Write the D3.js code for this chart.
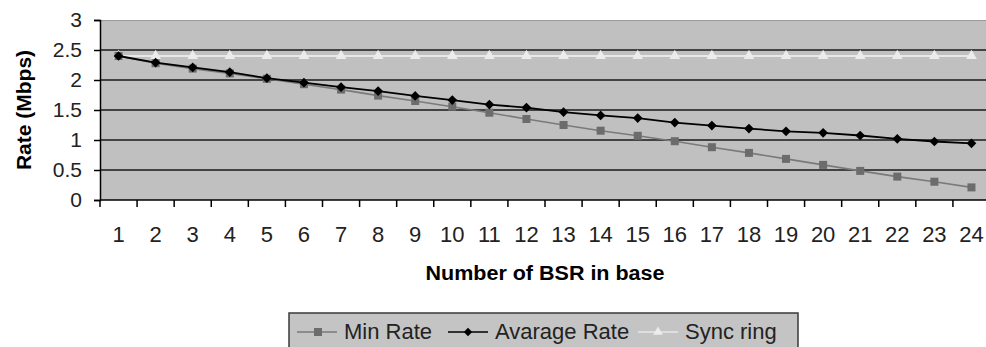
<!DOCTYPE html>
<html>
<head>
<meta charset="utf-8">
<script src="https://cdn.jsdelivr.net/npm/d3@7"></script>
<style>
  body { margin: 0; background: #fff; }
  text { font-family: Arial, "Liberation Sans", sans-serif; }
</style>
</head>
<body>
<script>
// values
var categories = [1, 2, 3, 4, 5, 6, 7, 8, 9, 10, 11, 12, 13, 14, 15, 16, 17, 18, 19, 20, 21, 22, 23, 24]
var minRate = [2.40, 2.28, 2.19, 2.11, 2.02, 1.93, 1.84, 1.74, 1.65, 1.555, 1.455, 1.35, 1.25, 1.155, 1.07, 0.98, 0.88, 0.785, 0.685, 0.585, 0.485, 0.39, 0.305, 0.21]
var avgRate = [2.40, 2.29, 2.21, 2.13, 2.03, 1.955, 1.88, 1.815, 1.735, 1.665, 1.59, 1.54, 1.465, 1.41, 1.365, 1.29, 1.24, 1.19, 1.145, 1.12, 1.075, 1.02, 0.975, 0.945]
var syncRing = [2.4, 2.4, 2.4, 2.4, 2.4, 2.4, 2.4, 2.4, 2.4, 2.4, 2.4, 2.4, 2.4, 2.4, 2.4, 2.4, 2.4, 2.4, 2.4, 2.4, 2.4, 2.4, 2.4, 2.4]
var yTicks = [0, 0.5, 1, 1.5, 2, 2.5, 3]
var yTickLabels = ['0', '0.5', '1', '1.5', '2', '2.5', '3']
var seriesNames = ['Min Rate', 'Avarage Rate', 'Sync ring']

var width = 986, height = 347
var margin = {left: 100, top: 20, right: -4, bottom: 147}
var plotW = width - margin.left - margin.right
var plotH = height - margin.top - margin.bottom

var svg = d3.select('body').append('svg').attr('width', width).attr('height', height)

var x = d3.scaleBand().domain(categories).range([0, plotW])
var y = d3.scaleLinear().domain([0, 3]).range([plotH, 0])

var g = svg.append('g').attr('transform', 'translate(' + margin.left + ',' + margin.top + ')')

// plot background
g.append('rect').attr('x', 0).attr('y', 0).attr('width', plotW).attr('height', plotH).attr('fill', '#c0c0c0')
g.append('line').attr('x1', 0).attr('x2', plotW).attr('y1', 0.5).attr('y2', 0.5).attr('stroke', '#9a9a9a')

// gridlines
g.selectAll('.grid').data(yTicks.filter(function(d) { return d > 0 && d < 3 }))
  .enter().append('line')
  .attr('x1', 0).attr('x2', plotW)
  .attr('y1', function(d) { return y(d) }).attr('y2', function(d) { return y(d) })
  .attr('stroke', '#1a1a1a').attr('stroke-width', 1.6)

// y axis
var yAxis = d3.axisLeft(y).tickValues(yTicks).tickSize(6).tickPadding(12)
  .tickFormat(function(d, i) { return yTickLabels[i] })
var yg = g.append('g').call(yAxis)
yg.select('.domain').attr('stroke', '#000').attr('stroke-width', 1.5)
yg.selectAll('.tick line').attr('stroke', '#000').attr('stroke-width', 1.5)
yg.selectAll('.tick text').attr('font-size', 21).attr('fill', '#222').attr('font-family', 'Arial, Liberation Sans')

// x axis, ticks between categories
var xg = g.append('g').attr('transform', 'translate(0,' + plotH + ')')
xg.append('line').attr('x1', 0).attr('x2', plotW).attr('stroke', '#000').attr('stroke-width', 1.5)
xg.selectAll('.xt').data(categories).enter().append('line')
  .attr('x1', function(d) { return x(d) }).attr('x2', function(d) { return x(d) })
  .attr('y1', 0).attr('y2', 7).attr('stroke', '#000').attr('stroke-width', 1.5)
xg.selectAll('.xl').data(categories).enter().append('text')
  .attr('x', function(d) { return x(d) + x.bandwidth() / 2 })
  .attr('y', 42).attr('text-anchor', 'middle')
  .attr('font-size', 22).attr('fill', '#222')
  .text(function(d) { return d })

var cx = function(d, i) { return x(categories[i]) + x.bandwidth() / 2 }
var line = d3.line().x(cx).y(function(d) { return y(d) })

// sync ring
g.append('path').attr('d', line(syncRing)).attr('fill', 'none').attr('stroke', '#e8e8e8').attr('stroke-width', 2)
g.selectAll('.tri').data(syncRing).enter().append('path')
  .attr('d', d3.symbol().type(d3.symbolTriangle).size(50))
  .attr('transform', function(d, i) { return 'translate(' + cx(d, i) + ',' + y(d) + ')' })
  .attr('fill', '#ececec')

// min rate
g.append('path').attr('d', line(minRate)).attr('fill', 'none').attr('stroke', '#7a7a7a').attr('stroke-width', 1.6)
g.selectAll('.sq').data(minRate).enter().append('rect')
  .attr('x', function(d, i) { return cx(d, i) - 4 }).attr('y', function(d) { return y(d) - 4 })
  .attr('width', 8).attr('height', 8).attr('fill', '#6c6c6c')

// average rate
g.append('path').attr('d', line(avgRate)).attr('fill', 'none').attr('stroke', '#000').attr('stroke-width', 1.8)
g.selectAll('.dia').data(avgRate).enter().append('path')
  .attr('d', d3.symbol().type(d3.symbolDiamond2).size(60))
  .attr('transform', function(d, i) { return 'translate(' + cx(d, i) + ',' + y(d) + ')' })
  .attr('fill', '#000')

// axis titles
svg.append('text').attr('x', 545).attr('y', 280).attr('text-anchor', 'middle')
  .attr('font-size', 20).attr('font-weight', 'bold').attr('fill', '#000')
  .attr('textLength', 239).attr('lengthAdjust', 'spacingAndGlyphs')
  .text('Number of BSR in base')
svg.append('text').attr('transform', 'translate(31,110) rotate(-90)').attr('text-anchor', 'middle')
  .attr('font-size', 21).attr('font-weight', 'bold').attr('fill', '#000')
  .text('Rate (Mbps)')

// legend
var lg = svg.append('g').attr('transform', 'translate(289,313)')
lg.append('rect').attr('x', 0).attr('y', 0).attr('width', 509).attr('height', 44)
  .attr('fill', '#c4c4c4').attr('stroke', '#3a3a3a').attr('stroke-width', 1.5)
var legItems = [
  {name: seriesNames[0], x: 8, color: '#7a7a7a', mark: 'sq', mcolor: '#6c6c6c'},
  {name: seriesNames[1], x: 159, color: '#000', mark: 'dia', mcolor: '#000'},
  {name: seriesNames[2], x: 349, color: '#e8e8e8', mark: 'tri', mcolor: '#ececec'}
]
legItems.forEach(function(it) {
  var ig = lg.append('g').attr('transform', 'translate(' + it.x + ',0)')
  ig.append('line').attr('x1', 0).attr('x2', 40).attr('y1', 19).attr('y2', 19)
    .attr('stroke', it.color).attr('stroke-width', 1.6)
  if (it.mark === 'sq') {
    ig.append('rect').attr('x', 17).attr('y', 15).attr('width', 8).attr('height', 8).attr('fill', it.mcolor)
  } else {
    ig.append('path').attr('d', d3.symbol().type(it.mark === 'dia' ? d3.symbolDiamond2 : d3.symbolTriangle).size(it.mark === 'dia' ? 45 : 40))
      .attr('transform', 'translate(20,19)').attr('fill', it.mcolor)
  }
  ig.append('text').attr('x', 47).attr('y', 26).attr('font-size', 22).attr('fill', '#222').text(it.name)
})
</script>
</body>
</html>
